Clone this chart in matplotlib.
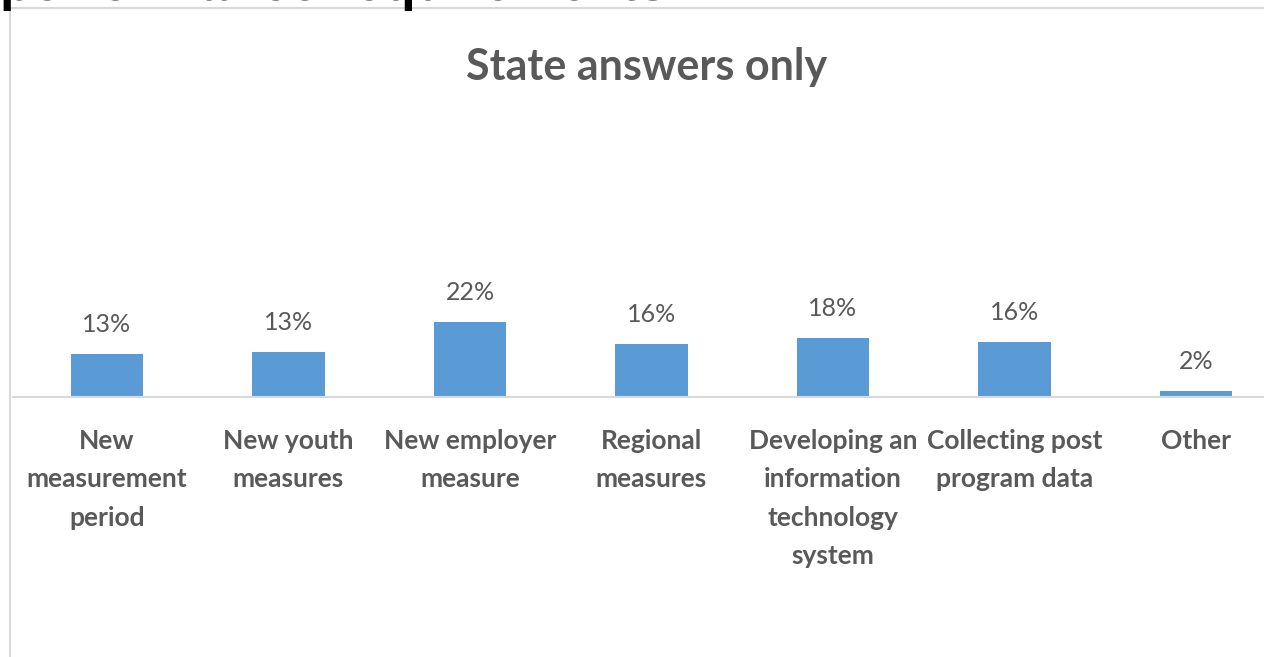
import matplotlib.pyplot as plt
from matplotlib.patches import Rectangle

# Ответы штатов (доля, %)
categories = [
    "New\nmeasurement\nperiod",
    "New youth\nmeasures",
    "New employer\nmeasure",
    "Regional\nmeasures",
    "Developing an\ninformation\ntechnology\nsystem",
    "Collecting post\nprogram data",
    "Other",
]
values = [12.6, 13.2, 22.1, 15.5, 17.4, 16.2, 1.8]
value_labels = ["13%", "13%", "22%", "16%", "18%", "16%", "2%"]

W, H = 1264, 657
gray_text = "#595959"
bar_color = "#5B9BD5"

fig = plt.figure(figsize=(W / 100, H / 100), dpi=100)

# рамка области диаграммы (обрезана справа и снизу)
fig.patches.append(
    Rectangle((10 / W, -0.1), 1.2, 1 - 8 / H + 0.1, transform=fig.transFigure,
              fill=False, edgecolor="#D9D9D9", linewidth=1.5)
)

# обрезанный заголовок слайда сверху
fig.text(0.0, 1.0, "performance requirements?", fontsize=38,
         fontweight="bold", color="black", family="Liberation Sans",
         ha="left", va="baseline")

ax_left, ax_bottom, ax_top = 13, 397, 97
ax = fig.add_axes([ax_left / W, (H - ax_bottom) / H, 1 - ax_left / W,
                   (ax_bottom - ax_top) / H])

x = range(len(categories))
bars = ax.bar(x, values, width=0.4, color=bar_color)

px_per_cat = 181.5
ax.set_xlim((ax_left - 107) / px_per_cat, (W - 107) / px_per_cat)
ax.set_ylim(0, (ax_bottom - ax_top) / 3.4)

for b, lab in zip(bars, value_labels):
    ax.annotate(lab, (b.get_x() + b.get_width() / 2, b.get_height()),
                xytext=(0, 16), textcoords="offset points", ha="center",
                va="baseline", fontsize=18, color=gray_text, family="Lato")

ax.set_xticks(list(x))
ax.set_xticklabels(categories, fontsize=19, fontweight="bold", color=gray_text,
                   family="Lato", linespacing=1.72)
ax.tick_params(axis="x", length=0, pad=23)
ax.set_yticks([])
for s in ["top", "right", "left"]:
    ax.spines[s].set_visible(False)
ax.spines["bottom"].set_color("#D9D9D9")
ax.spines["bottom"].set_linewidth(1.5)

fig.text(647 / W, 1 - 80 / H, "State answers only", fontsize=31,
         fontweight="bold", color=gray_text, family="Lato",
         ha="center", va="baseline")

fig.savefig("out.png", dpi=100)
